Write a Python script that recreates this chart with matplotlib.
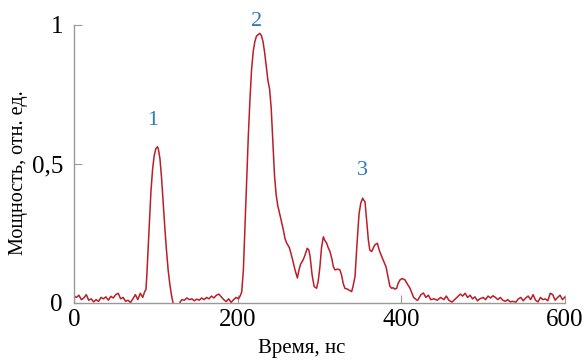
import matplotlib.pyplot as plt
import numpy as np

# pulse power trace (time in ns, power in rel. units)
t_base1 = [0, 3, 6, 9, 12, 15, 18, 21, 24, 27, 30, 33, 36, 39, 42, 45, 48, 51, 54, 57,
           60, 63, 66, 69, 72, 75, 78, 81, 84, 86]
p_base1 = [0.025, 0.02, 0.028, 0.012, 0.018, 0.03, 0.01, 0.015, 0.004, 0.012, 0.006, 0.02,
           0.015, 0.022, 0.01, 0.024, 0.018, 0.03, 0.035, 0.015, 0.02, 0.006, 0.01, 0.002,
           0.015, 0.03, 0.012, 0.035, 0.02, 0.038]

t_peak1 = [88, 89, 90, 92, 94, 96, 98, 100, 102, 103, 105, 107, 109, 111, 113, 115, 117,
           119, 121, 123, 128]
p_peak1 = [0.05, 0.1, 0.16, 0.28, 0.4, 0.48, 0.53, 0.555, 0.562, 0.555, 0.52, 0.45, 0.36,
           0.27, 0.19, 0.12, 0.07, 0.03, 0.0, -0.01, -0.01]

t_base2 = [130, 132, 135, 138, 141, 144, 147, 150, 153, 156, 159, 162, 165, 168, 171, 174,
           177, 180, 183, 186, 189, 192, 195, 198, 201, 203]
p_base2 = [0.005, 0.012, 0.01, 0.018, 0.012, 0.015, 0.008, 0.014, 0.01, 0.018, 0.012, 0.02,
           0.015, 0.025, 0.018, 0.028, 0.032, 0.022, 0.012, 0.005, 0.015, 0.002, 0.012, 0.02,
           0.015, 0.025]

t_peak2 = [205, 207, 209, 211, 213, 215, 217, 219, 221, 223, 225, 227, 229, 231, 233, 235,
           237, 239, 241, 243, 245, 247, 249, 251, 253, 256, 258, 260, 263, 265, 268, 270,
           273, 275, 277, 280, 282, 285, 287, 288.5, 291, 293.5, 296.5, 298.5, 300.5, 302.5,
           304.7, 306.5, 308.8, 310.5, 312.8, 315, 317, 319, 322, 325, 327, 329, 331, 334,
           337, 339.3, 341, 343.4, 346, 348.3, 350.5, 352.8, 354, 355.6, 357.5, 359.7, 361.5,
           363.8, 366, 368, 370.7, 373, 376, 378.5, 381.3, 384, 386, 388.2, 390, 392, 394.3,
           396, 398.4, 401, 404.5, 407, 410.6, 413, 415, 418.8]
p_peak2 = [0.04, 0.12, 0.28, 0.45, 0.6, 0.73, 0.84, 0.905, 0.94, 0.96, 0.965, 0.97, 0.962,
           0.94, 0.9, 0.85, 0.8, 0.77, 0.7, 0.58, 0.46, 0.39, 0.35, 0.325, 0.3, 0.26, 0.23,
           0.215, 0.2, 0.18, 0.145, 0.12, 0.09, 0.12, 0.14, 0.155, 0.17, 0.197, 0.19, 0.167,
           0.1, 0.059, 0.053, 0.08, 0.13, 0.2, 0.238, 0.225, 0.215, 0.2, 0.185, 0.16, 0.13,
           0.119, 0.122, 0.119, 0.1, 0.07, 0.053, 0.05, 0.045, 0.041, 0.06, 0.095, 0.22, 0.32,
           0.36, 0.377, 0.37, 0.364, 0.3, 0.227, 0.19, 0.185, 0.2, 0.21, 0.215, 0.19, 0.167,
           0.15, 0.13, 0.09, 0.06, 0.053, 0.055, 0.05, 0.053, 0.07, 0.083, 0.088, 0.083, 0.07,
           0.053, 0.035, 0.02, 0.011]

t_base3 = [420, 424, 427, 430, 433, 436, 440, 444, 448, 452, 455, 458, 462, 465, 468, 472,
           475, 478, 481, 484, 487, 490, 493, 496, 500, 503, 506, 509, 512, 515, 518, 521,
           524, 527, 530, 533, 536, 540, 543, 546, 549, 552, 555, 558, 561, 564, 567, 570,
           573, 576, 579, 582, 585, 588, 591, 594, 597, 600]
p_base3 = [0.01, 0.03, 0.036, 0.02, 0.028, 0.012, 0.015, 0.01, 0.02, 0.012, 0.025, 0.01,
           0.003, 0.012, 0.02, 0.032, 0.025, 0.035, 0.02, 0.028, 0.015, 0.022, 0.008, 0.015,
           0.02, 0.012, 0.025, 0.018, 0.026, 0.02, 0.012, 0.02, 0.01, 0.006, 0.012, 0.004,
           0.006, 0.003, 0.015, 0.02, 0.008, 0.018, 0.025, 0.012, 0.03, 0.01, 0.004, 0.02,
           0.012, 0.015, 0.008, 0.035, 0.03, 0.01, 0.02, 0.028, 0.012, 0.022]

# peak labels
peak_names = ['1', '2', '3']
peak_x = [96, 223.6, 352.6]
peak_y = [0.658, 1.014, 0.478]

t = np.concatenate([t_base1, t_peak1, t_base2, t_peak2, t_base3])
p = np.concatenate([p_base1, p_peak1, p_base2, p_peak2, p_base3])

plt.rcParams['font.family'] = ['Liberation Serif', 'DejaVu Serif']

fig = plt.figure(figsize=(5.85, 3.62), dpi=100)
ax = fig.add_axes([0.1265, 0.163, 0.8393, 0.768])

ax.plot(t, p, color='#bb1e28', lw=1.1)

for name, x, y in zip(peak_names, peak_x, peak_y):
    ax.text(x, y, name, color='#2b7bb9', fontsize=16, ha='center', va='center',
            clip_on=False)

ax.set_xlim(0, 600)
ax.set_ylim(0, 1)
ax.set_xticks([0, 200, 400, 600])
ax.set_yticks([0, 0.5, 1])
ax.set_yticklabels(['0', '0,5', '1'])

for side in ['top', 'right']:
    ax.spines[side].set_visible(False)
for side in ['left', 'bottom']:
    ax.spines[side].set_color('#999999')
    ax.spines[side].set_linewidth(1.0)

ax.tick_params(direction='in', length=6, width=0.8, color='#999999',
               labelsize=18, labelcolor='black')
ax.tick_params(axis='x', pad=4)
ax.tick_params(axis='y', pad=8)

ax.set_xlabel('Время, нс', fontsize=15)
ax.set_ylabel('Мощность, отн. ед.', fontsize=14.5)
ax.xaxis.set_label_coords(0.464, -0.13)
ax.yaxis.set_label_coords(-0.094, 0.468)

fig.savefig('out.png', dpi=100)
